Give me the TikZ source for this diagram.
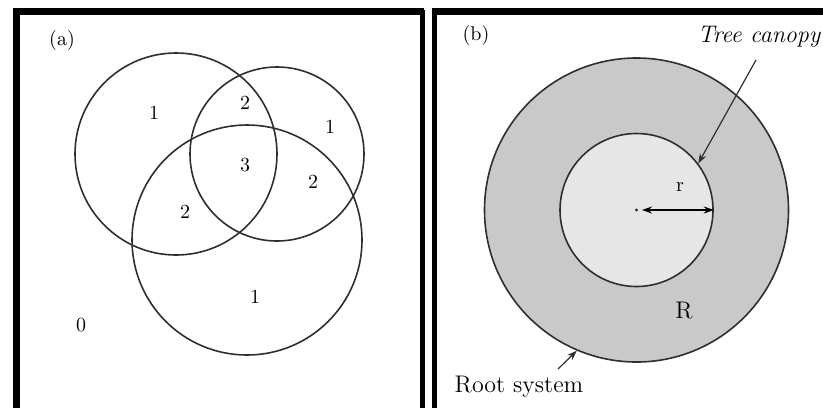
\documentclass[tikz,border=0pt]{standalone}
\usepackage{tikz}
\usetikzlibrary{arrows.meta, positioning}
\definecolor{ringgray}{HTML}{C9C9C9}
\definecolor{canopygray}{HTML}{E6E6E6}
\definecolor{edgegray}{HTML}{2E2E2E}

\begin{document}
\begin{tikzpicture}[x=0.5pt, y=-0.5pt,
  framebar/.style={line width=3.2pt},
  thinbar/.style={line width=2.1pt},
  venn/.style={circle, draw=edgegray, line width=0.8pt, inner sep=0pt},
  count/.style={font=\normalsize, inner sep=1pt},
  tag/.style={font=\normalsize, inner sep=1pt},
  pointer/.style={draw=edgegray, line width=0.6pt, -{Stealth[length=5pt, width=3.5pt]}}]
  \useasboundingbox (0,0) rectangle (823,408);

  % Panel frames (open at the bottom)
  \draw[framebar] (16.5,408) -- (16.5,11.5) -- (424,11.5);
  \draw[thinbar] (422.5,10) -- (422.5,408);
  \draw[framebar] (433,11.5) -- (823,11.5);
  \draw[line width=2.5pt] (434.5,408) -- (434.5,8.3);

  % (a) three overlapping circles
  \node[venn, minimum size=101pt] (circA) at (176,154) {};
  \node[venn, minimum size=87pt] (circB) at (277,154) {};
  \node[venn, minimum size=115pt] (circC) at (247,240) {};

  \node[tag] (taga) at (62,40) {(a)};
  \node[count] (nA) at (154,113) {1};
  \node[count] (nAB) at (245,103) {2};
  \node[count] (nB) at (330,127) {1};
  \node[count] (nABC) at (245,165) {3};
  \node[count] (nBC) at (313,182) {2};
  \node[count] (nAC) at (185,212) {2};
  \node[count] (nC) at (255,297) {1};
  \node[count] (nout) at (81,325) {0};

  % (b) root system and tree canopy
  \node[venn, fill=ringgray, minimum size=152pt] (roots) at (636.5,210) {};
  \node[venn, fill=canopygray, minimum size=76.5pt] (canopy) at (636.5,210) {};

  \node[tag] (tagb) at (476,35) {(b)};
  \coordinate (hub) at (636.5,210);
  \fill[edgegray] (hub) circle[radius=1.6];
  \coordinate (rtail) at (642,210);
  \draw[draw=black, line width=0.8pt, {Stealth[length=5pt, width=3.5pt]}-{Stealth[length=5pt, width=3.5pt]}]
    (rtail) -- (canopy.east);
  \node[font=\normalsize] (rlbl) at (680,187) {r};
  \node[font=\large] (Rlbl) at (684,311) {R};

  \node[font=\large\itshape] (treelbl) at (759,37) {Tree canopy};
  \coordinate (treetail) at (756,60);
  \draw[pointer] (treetail) -- (canopy.37);

  \node[font=\large] (rootlbl) at (519,387) {Root system};
  \coordinate (roottail) at (558,369);
  \draw[pointer] (roottail) -- (roots.247);
\end{tikzpicture}
\end{document}
